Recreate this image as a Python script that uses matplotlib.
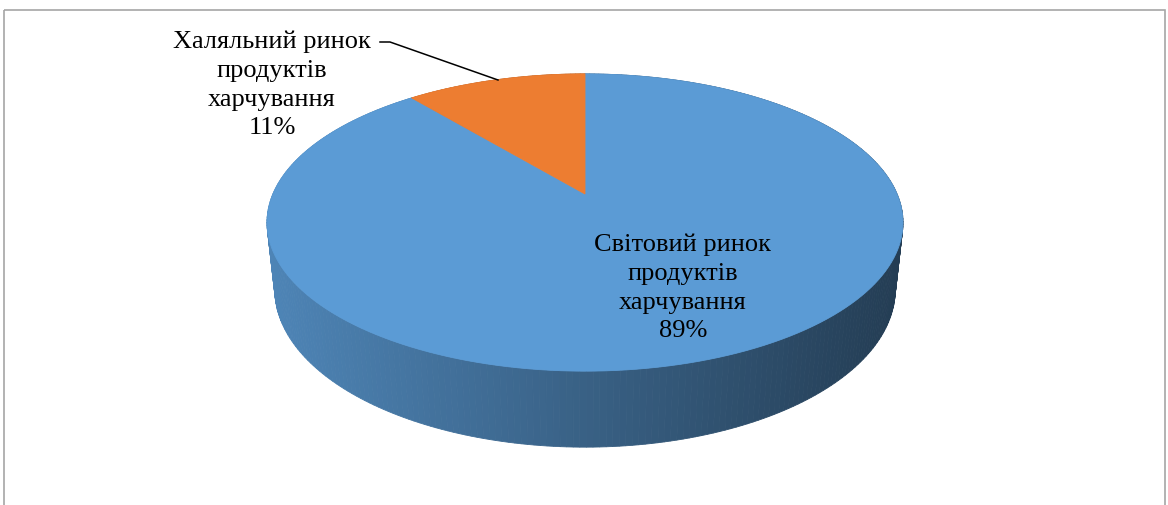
import numpy as np
import matplotlib
matplotlib.use('Agg')
import matplotlib.pyplot as plt
from matplotlib.patches import Polygon, Rectangle

# share of the food market, %
labels = ['Світовий ринок\nпродуктів\nхарчування', 'Халяльний ринок\nпродуктів\nхарчування']
shares = [89, 11]
colors = ['#5b9bd5', '#ed7d31']

# camera for the tilted 3d pie (unit disc, thickness in radius units)
elev = np.radians(27.3)
dist = 4.63
focal = 1445.0
thick = 0.2435
cx, cy = 585.0, 195.0


def project(u, v, z):
    # u: right, v: away from viewer, z: up -> pixel coords
    depth = dist + v * np.cos(elev) - z * np.sin(elev)
    up = v * np.sin(elev) + z * np.cos(elev)
    return cx + focal * u / depth, cy - focal * up / depth


def shade(color, x):
    r, g, b = matplotlib.colors.to_rgb(color)
    f = 0.86 - 0.47 * (x - 266) / (903 - 266)
    f = min(max(f, 0.35), 0.95)
    return (r * f, g * f, b * f)


fig = plt.figure(figsize=(11.68, 5.06), dpi=100)
ax = fig.add_axes([0, 0, 1, 1])
ax.set_xlim(0, 1168)
ax.set_ylim(506, 0)
ax.axis('off')

# slice boundaries, clockwise from 12 o'clock
fracs = np.array(shares, dtype=float) / sum(shares)
bounds = np.concatenate([[0], np.cumsum(fracs)]) * 2 * np.pi

# side wall, drawn far-to-near
quads = []
for i, c in enumerate(colors):
    th = np.linspace(bounds[i], bounds[i + 1], max(int(360 * fracs[i]), 4))
    for a0, a1 in zip(th[:-1], th[1:]):
        u = np.sin([a0, a1, a1, a0])
        v = np.cos([a0, a1, a1, a0])
        z = np.array([0, 0, -thick, -thick])
        px, py = project(u, v, z)
        quads.append((np.mean(v), np.column_stack([px, py]), shade(c, np.mean(px))))
quads.sort(key=lambda q: -q[0])
for _, pts, col in quads:
    ax.add_patch(Polygon(pts, closed=True, facecolor=col, edgecolor=col, lw=0.6))

# top face
for i, c in enumerate(colors):
    th = np.linspace(bounds[i], bounds[i + 1], 200)
    px, py = project(np.sin(th), np.cos(th), np.zeros_like(th))
    pts = np.vstack([[cx, cy], np.column_stack([px, py])])
    ax.add_patch(Polygon(pts, closed=True, facecolor=c, edgecolor=c, lw=0.6))

font = dict(family='Liberation Serif', fontsize=19, color='black',
            ha='center', va='center', linespacing=1.4)
ax.text(683, 288, f'{labels[0]}\n{shares[0]}%', **font)
ax.text(272, 85, f'{labels[1]}\n{shares[1]}%', **font)

# leader line to the small slice
ax.plot([380, 390, 498], [43, 43, 81], color='black', lw=1.1)

# chart area frame
ax.add_patch(Rectangle((3.5, 10.5), 1161, 520, fill=False, edgecolor='#a6a6a6', lw=1.2))

fig.savefig('out.png', dpi=100)
